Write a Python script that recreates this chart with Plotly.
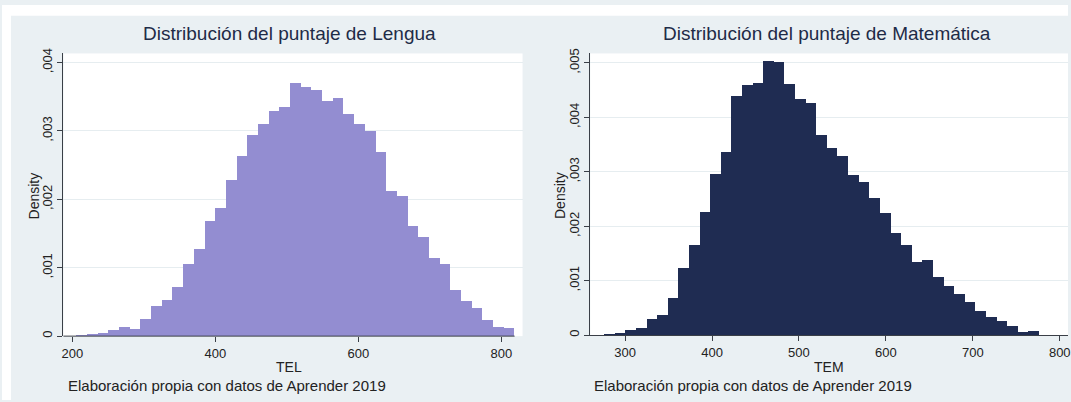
import numpy as np
import plotly.graph_objects as go

# ---- data (density per bin) ----
TEL_START = 206.0
TEL_WIDTH = 14.95
tel_density = [
    0.00001, 0.00002, 0.00004, 0.00008, 0.00012, 0.00010, 0.00025, 0.00043, 0.00052, 0.00071,
    0.00105, 0.00127, 0.00167, 0.00187, 0.00227, 0.00263, 0.00294, 0.00310, 0.00329, 0.00335,
    0.00370, 0.00363, 0.00360, 0.00343, 0.00348, 0.00324, 0.00310, 0.00299, 0.00269, 0.00212,
    0.00205, 0.00161, 0.00145, 0.00114, 0.00105, 0.00067, 0.00051, 0.00040, 0.00023, 0.00013,
    0.00011,
]

TEM_START = 276.2
TEM_WIDTH = 12.2
tem_density = [
    0.00001, 0.00002, 0.00008, 0.00013, 0.00029, 0.00037, 0.00067, 0.00122, 0.00164, 0.00226,
    0.00296, 0.00336, 0.00439, 0.00458, 0.00462, 0.00502, 0.00501, 0.00460, 0.00433, 0.00425,
    0.00367, 0.00343, 0.00329, 0.00293, 0.00280, 0.00251, 0.00223, 0.00186, 0.00164, 0.00133,
    0.00137, 0.00106, 0.00089, 0.00074, 0.00061, 0.00044, 0.00033, 0.00025, 0.00016, 0.00005,
    0.00007,
]

tel_xticks = [200, 400, 600, 800]
tem_xticks = [300, 400, 500, 600, 700, 800]
tel_yticks = [0, 0.001, 0.002, 0.003, 0.004]
tel_yticktext = ["0", ",001", ",002", ",003", ",004"]
tem_yticks = [0, 0.001, 0.002, 0.003, 0.004, 0.005]
tem_yticktext = ["0", ",001", ",002", ",003", ",004", ",005"]

TITLE_LEFT = "Distribución del puntaje de Lengua"
TITLE_RIGHT = "Distribución del puntaje de Matemática"
NOTE = "Elaboración propia con datos de Aprender 2019"

# ---- colours ----
COLOR_LEFT = "#938dd1"
COLOR_RIGHT = "#1f2c52"
COLOR_BG = "#eaf0f3"
COLOR_GRID = "#e6edf0"
COLOR_AXIS = "#3a3f47"
COLOR_TITLE = "#1e2b47"
COLOR_TEXT = "#222222"
FONT = "Liberation Sans, Arial, sans-serif"

W, H = 1071, 402


def px_x(v):
    return v / W


def px_y(v):
    return 1 - v / H


def centers(start, width, n):
    return start + width * (np.arange(n) + 0.5)


fig = go.Figure()
fig.add_trace(go.Bar(
    x=centers(TEL_START, TEL_WIDTH, len(tel_density)), y=tel_density,
    width=TEL_WIDTH, marker=dict(color=COLOR_LEFT, line=dict(width=0)),
    xaxis="x", yaxis="y", showlegend=False,
))
fig.add_trace(go.Bar(
    x=centers(TEM_START, TEM_WIDTH, len(tem_density)), y=tem_density,
    width=TEM_WIDTH, marker=dict(color=COLOR_RIGHT, line=dict(width=0)),
    xaxis="x2", yaxis="y2", showlegend=False,
))

axis_common = dict(
    ticks="outside", ticklen=5, tickcolor=COLOR_AXIS, tickwidth=1,
    linecolor=COLOR_AXIS, linewidth=1, zeroline=False,
    ticklabeloverflow="allow",
    tickfont=dict(family=FONT, size=13, color=COLOR_TEXT),
)

# left panel: plot region 61.7..523 px, axis line stops at the last bar
x0_px, x1_px = 61.7, 523
fig.update_layout(
    xaxis=dict(
        domain=[px_x(x0_px), px_x(x1_px)],
        range=[200 + (x0_px - 70.7) / 0.71833, 200 + (x1_px - 70.7) / 0.71833],
        tickvals=tel_xticks, showline=False, showgrid=False, anchor="y",
        **axis_common,
    ),
    yaxis=dict(
        domain=[px_y(337), px_y(49.3)], range=[0, 0.004134],
        tickvals=tel_yticks, ticktext=tel_yticktext, tickangle=-90,
        showline=True, showgrid=True, gridcolor=COLOR_GRID, anchor="x",
        **axis_common,
    ),
    xaxis2=dict(
        domain=[px_x(591), 1.0],
        range=[300 - 35 / 0.8733, 800 + 8.3 / 0.8733],
        tickvals=tem_xticks, showline=True, showgrid=False, anchor="y2",
        **axis_common,
    ),
    yaxis2=dict(
        domain=[px_y(336), px_y(49.3)], range=[0, 0.005175],
        tickvals=tem_yticks, ticktext=tem_yticktext, tickangle=-90,
        showline=True, showgrid=True, gridcolor=COLOR_GRID, anchor="x2",
        **axis_common,
    ),
)

# x-axis line of the left panel only spans the bars
fig.add_shape(type="line", xref="paper", yref="paper",
              x0=px_x(x0_px), x1=px_x(515), y0=px_y(337), y1=px_y(337),
              line=dict(color=COLOR_AXIS, width=1))

# white margins outside the grey graph region
fig.add_shape(type="rect", xref="paper", yref="paper", layer="below",
              x0=0, x1=1, y0=px_y(11), y1=1, fillcolor="white", line_width=0)
fig.add_shape(type="rect", xref="paper", yref="paper", layer="below",
              x0=0, x1=px_x(9), y0=0, y1=1, fillcolor="white", line_width=0)

annotations = [
    dict(text=TITLE_LEFT, x=px_x(289), y=px_y(28.5), font=dict(size=19, color=COLOR_TITLE)),
    dict(text=TITLE_RIGHT, x=px_x(829), y=px_y(28.5), font=dict(size=19, color=COLOR_TITLE)),
    dict(text="TEL", x=px_x(288), y=px_y(368), font=dict(size=14, color=COLOR_TEXT)),
    dict(text="TEM", x=px_x(831), y=px_y(368), font=dict(size=14, color=COLOR_TEXT)),
    dict(text="Density", x=px_x(32), y=px_y(194), textangle=-90,
         font=dict(size=14, color=COLOR_TEXT)),
    dict(text="Density", x=px_x(560), y=px_y(194), textangle=-90,
         font=dict(size=14, color=COLOR_TEXT)),
    dict(text=NOTE, x=px_x(64), y=px_y(387), xanchor="left",
         font=dict(size=15, color=COLOR_TEXT)),
    dict(text=NOTE, x=px_x(593), y=px_y(387), xanchor="left",
         font=dict(size=15, color=COLOR_TEXT)),
]
for a in annotations:
    a.setdefault("xanchor", "center")
    a.update(xref="paper", yref="paper", yanchor="middle", showarrow=False)
    a["font"]["family"] = FONT
fig.update_layout(annotations=annotations)

fig.update_layout(
    width=W, height=H,
    margin=dict(l=0, r=0, t=0, b=0),
    paper_bgcolor=COLOR_BG,
    plot_bgcolor="white",
    bargap=0,
    font=dict(family=FONT),
)

# the page's default body margin would push the figure 8px right/down
fig.write_html("out.html", config={"displayModeBar": False},
               post_script="document.body.style.margin='0px';document.body.style.overflow='hidden';")
